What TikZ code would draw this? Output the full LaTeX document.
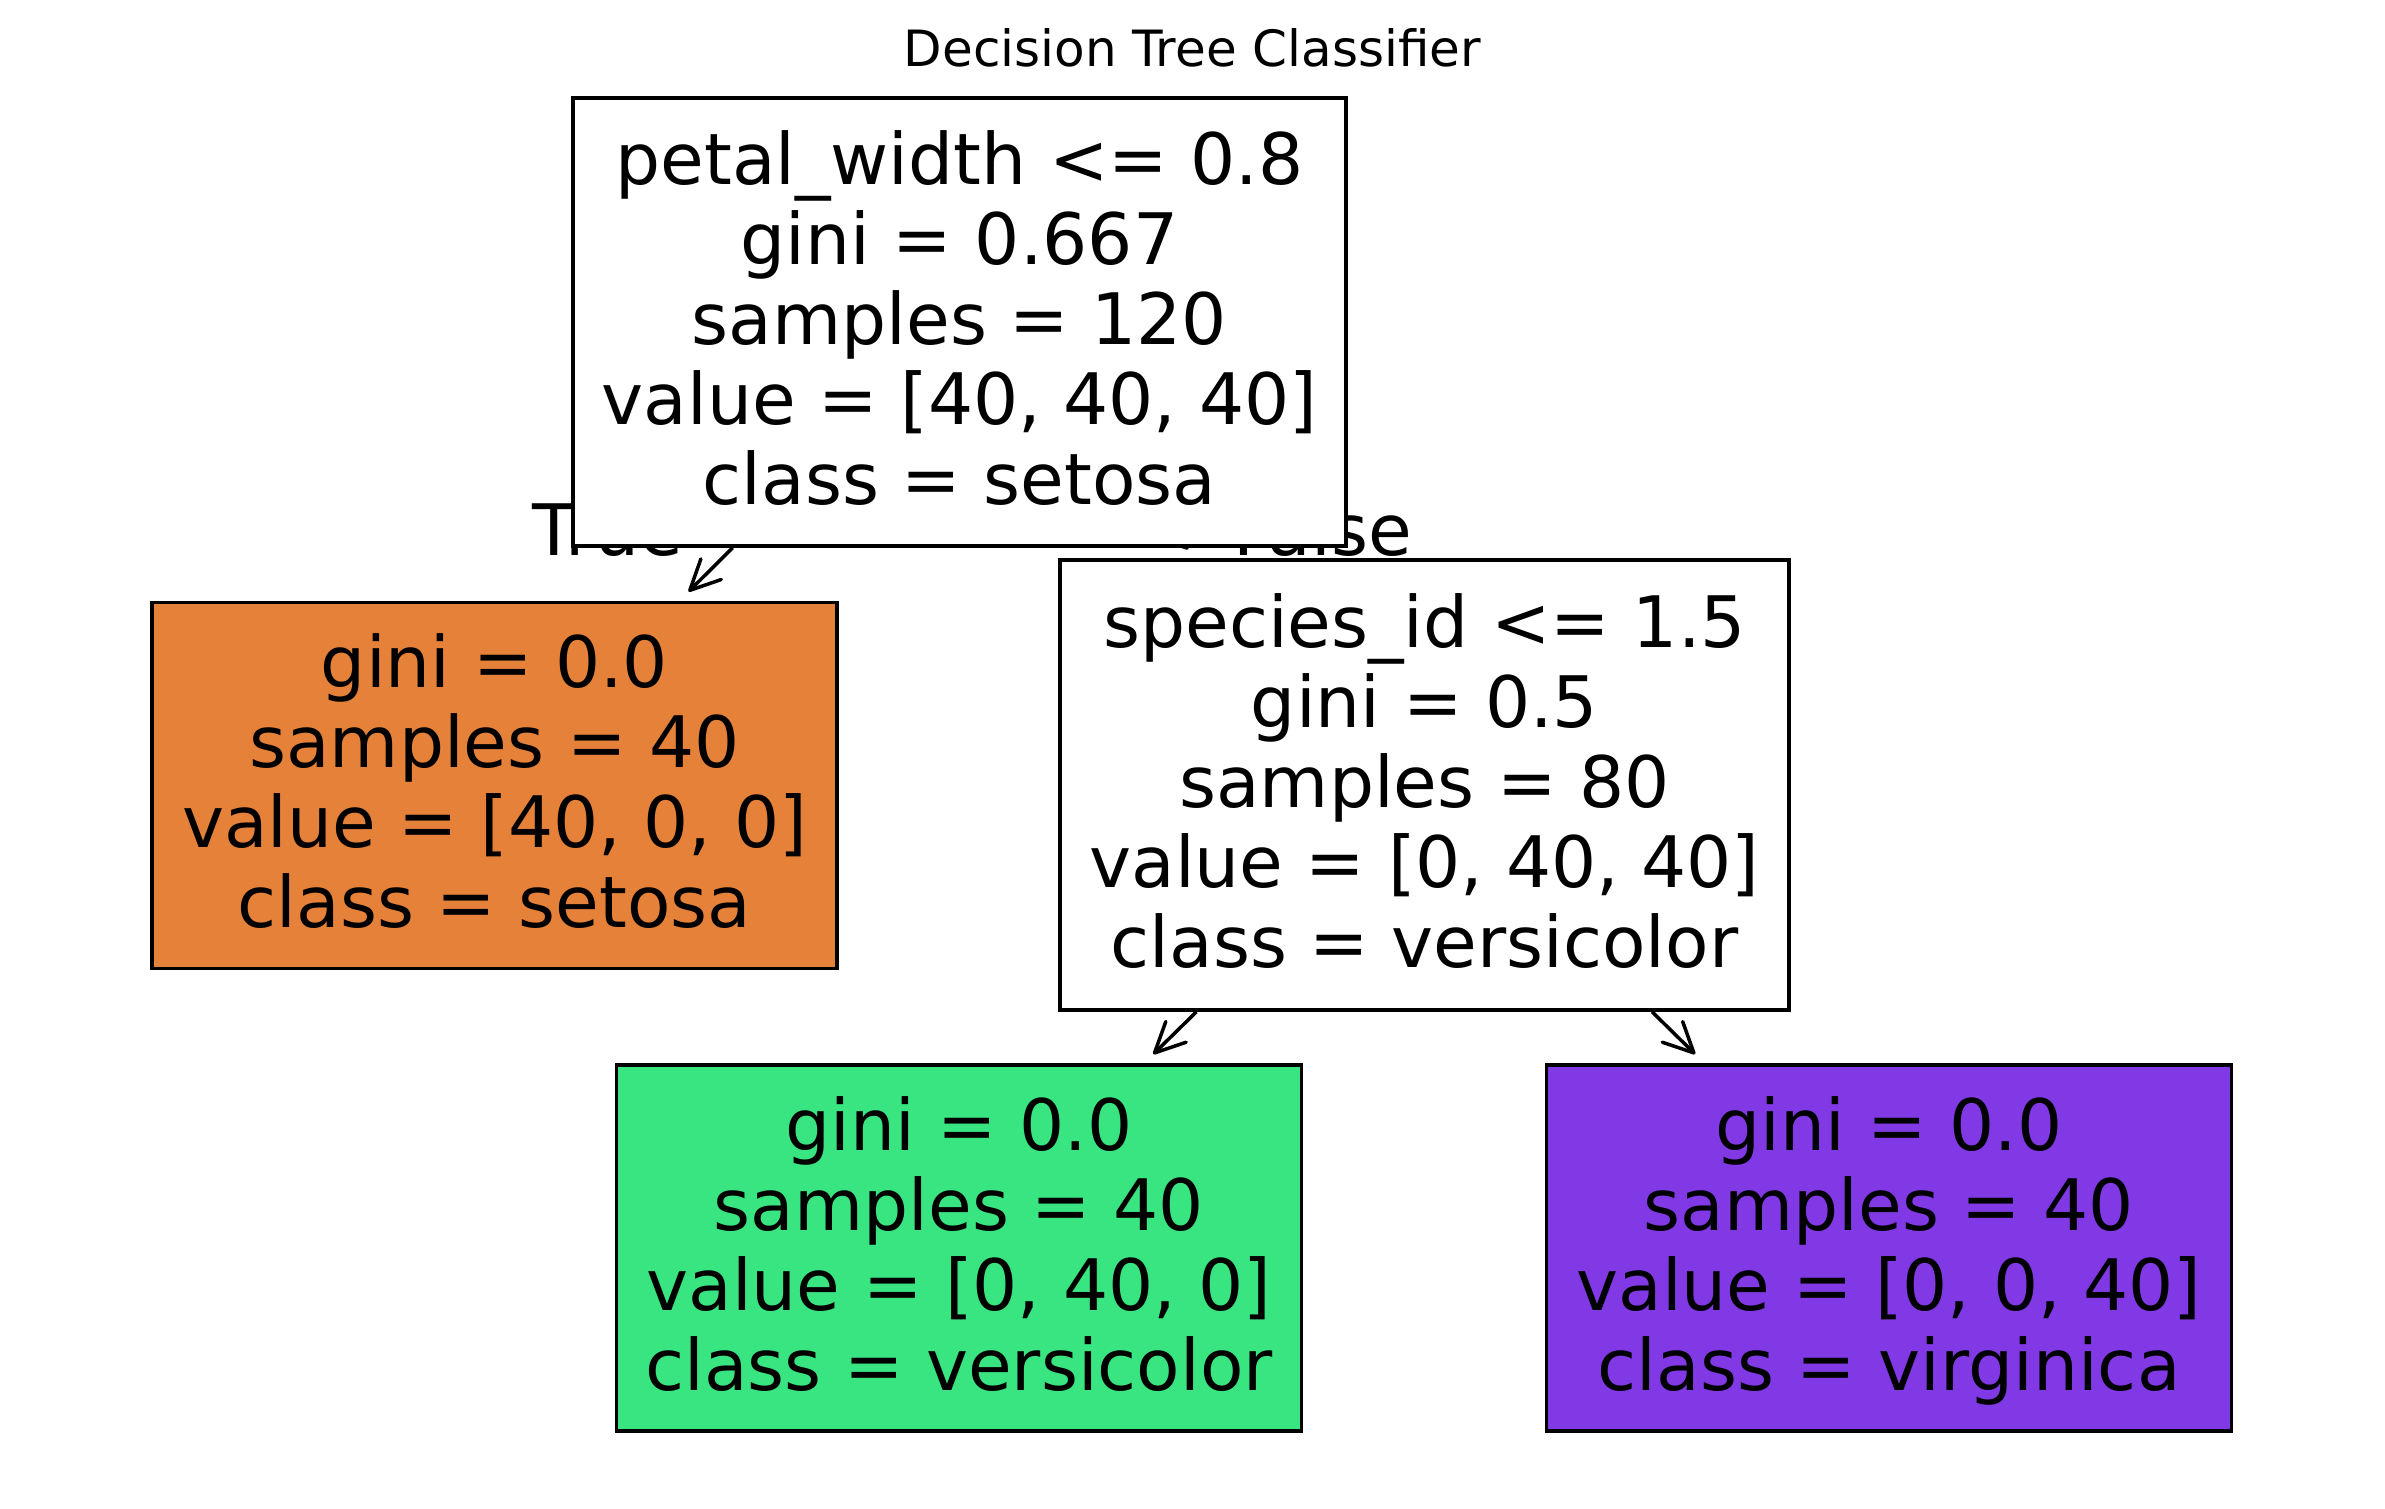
\documentclass[tikz,border=0pt]{standalone}
\usepackage{fontspec}
\setmainfont{DejaVu Sans}
\usetikzlibrary{arrows.meta}
\pgfdeclarelayer{bg}
\pgfsetlayers{bg,main}
\definecolor{setosaC}{HTML}{E58139}
\definecolor{versiC}{HTML}{39E581}
\definecolor{virgiC}{HTML}{8139E5}
\newcommand{\topstrut}{\rule{0pt}{62pt}}
\newcommand{\botstrut}{\rule[-18pt]{0pt}{18pt}}
\begin{document}
\begin{tikzpicture}[x=1pt,y=-1pt,
  treebox/.style={draw=black, line width=3.5pt, inner sep=0pt, align=center,
    font=\fontsize{71}{80}\selectfont},
  leafbox/.style={treebox, minimum width=685pt, minimum height=366pt},
  edge/.style={line width=3.5pt, -{Straight Barb[length=30pt,width=29pt,round]},
    shorten >=13pt},
  branchlabel/.style={font=\fontsize{71}{80}\selectfont, inner sep=0pt}]
\useasboundingbox (0,0) rectangle (2385,1509);

\node[anchor=base, inner sep=0pt, font=\fontsize{50}{60}\selectfont] (title)
  at (1192.5,67) {Decision Tree Classifier};

\node[treebox, fill=white, minimum width=773pt, minimum height=448pt] (root)
  at (959.5,322) {\topstrut petal\_width <= 0.8\\ gini = 0.667\\ samples = 120\\
  value = [40, 40, 40]\\ \botstrut class = setosa};

\node[leafbox, fill=setosaC] (setosa) at (494.5,785.5)
  {\topstrut gini = 0.0\\ samples = 40\\ value = [40, 0, 0]\\ \botstrut class = setosa};

\node[treebox, fill=white, minimum width=729pt, minimum height=450pt] (split)
  at (1424.5,785) {\topstrut species\_id <= 1.5\\ gini = 0.5\\ samples = 80\\
  value = [0, 40, 40]\\ \botstrut class = versicolor};

\node[leafbox, fill=versiC] (versi) at (959,1248)
  {\topstrut gini = 0.0\\ samples = 40\\ value = [0, 40, 0]\\ \botstrut class = versicolor};

\node[leafbox, fill=virgiC] (virgi) at (1889,1248)
  {\topstrut gini = 0.0\\ samples = 40\\ value = [0, 0, 40]\\ \botstrut class = virginica};

\begin{pgfonlayer}{bg}
  \node[branchlabel, anchor=base west] (truelbl) at (532,555) {True};
  \node[branchlabel, anchor=base east] (falselbl) at (1412,555) {False};
  \draw[edge] (root) -- (setosa);
  \draw[edge] (root) -- (split);
  \draw[edge] (split) -- (versi);
  \draw[edge] (split) -- (virgi);
\end{pgfonlayer}
\end{tikzpicture}
\end{document}
